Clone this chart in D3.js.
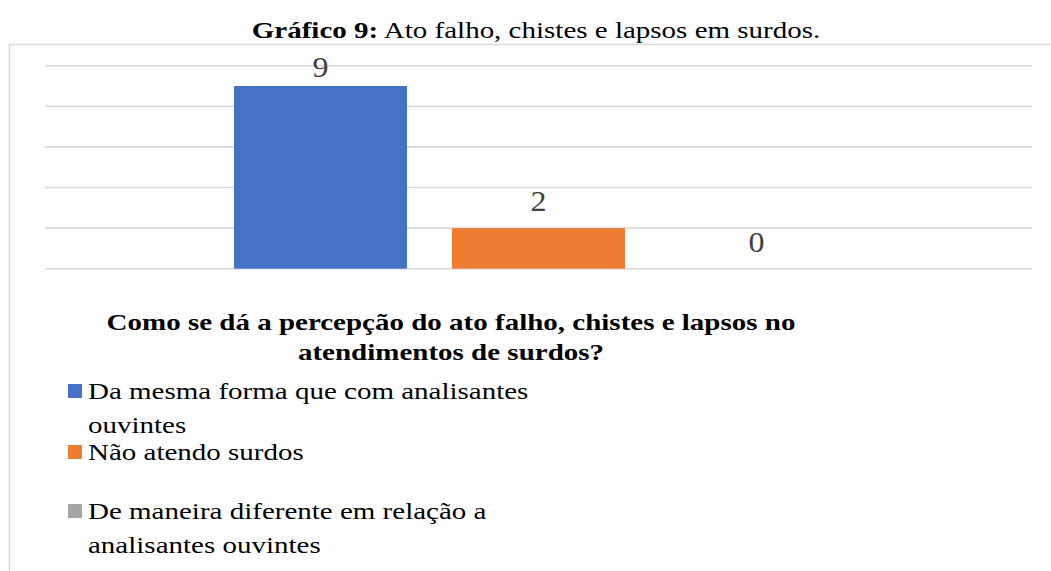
<!DOCTYPE html>
<html>
<head>
<meta charset="utf-8">
<script src="https://cdn.jsdelivr.net/npm/d3@7"></script>
<style>
  html, body { margin: 0; padding: 0; background: #fff; }
  svg { display: block; font-family: "Liberation Serif", "Times New Roman", serif; }
</style>
</head>
<body>
<div id="chart"></div>
<script>
// data
var seriesNames = [
  "Da mesma forma que com analisantes ouvintes",
  "Não atendo surdos",
  "De maneira diferente em relação a analisantes ouvintes"
];
var seriesValues = [9, 2, 0];
var seriesColors = ["#4472C4", "#ED7D31", "#A5A5A5"];
// legend text as it wraps in the picture
var legendLines = [
  ["Da mesma forma que com analisantes", "ouvintes"],
  ["Não atendo surdos"],
  ["De maneira diferente em relação a", "analisantes ouvintes"]
];
var categoryTitle = ["Como se dá a percepção do ato falho, chistes e lapsos no", "atendimentos de surdos?"];
var yTicks = [0, 2, 4, 6, 8, 10];
var titleBold = "Gráfico 9:";
var titleRest = " Ato falho, chistes e lapsos em surdos.";

var width = 1051, height = 571;
var plot = { left: 45, right: 1032, top: 65.7, bottom: 268.7 };
var squish = 0.77; // the picture text is flattened

var svg = d3.select("#chart")
  .append("svg")
  .attr("width", width)
  .attr("height", height);

// title
var title = svg.append("text")
  .attr("transform", "translate(536,38) scale(1," + squish + ")")
  .attr("text-anchor", "middle")
  .style("font-size", "29px")
  .attr("fill", "#000");
title.append("tspan").style("font-weight", "bold").text(titleBold);
title.append("tspan").text(titleRest);

// chart border (only left and top show)
svg.append("path")
  .attr("d", "M9.5," + height + "V44.5H" + width)
  .attr("fill", "none")
  .attr("stroke", "#d9d9d9")
  .attr("stroke-width", 1.5);

var y = d3.scaleLinear()
  .domain([0, 10])
  .range([plot.bottom, plot.top]);

// one category, three series side by side
var x0 = d3.scaleBand()
  .domain(["cat"])
  .range([plot.left, plot.right])
  .paddingInner(0)
  .paddingOuter(0.3103);

var x1 = d3.scaleBand()
  .domain(seriesNames)
  .range([0, x0.bandwidth()])
  .paddingInner(0.2064)
  .paddingOuter(0);

// gridlines
svg.append("g")
  .selectAll("line")
  .data(yTicks)
  .enter()
  .append("line")
  .attr("x1", plot.left)
  .attr("x2", plot.right)
  .attr("y1", d => y(d))
  .attr("y2", d => y(d))
  .attr("stroke", "#d9d9d9")
  .attr("stroke-width", 1.6);

var bars = svg.append("g")
  .attr("transform", "translate(" + x0("cat") + ",0)");

bars.selectAll("rect")
  .data(seriesNames)
  .enter()
  .append("rect")
  .attr("x", d => x1(d))
  .attr("width", x1.bandwidth())
  .attr("y", (d, i) => y(seriesValues[i]))
  .attr("height", (d, i) => y(0) - y(seriesValues[i]))
  .attr("fill", (d, i) => seriesColors[i]);

// value labels, kept inside the chart area
bars.selectAll("text")
  .data(seriesNames)
  .enter()
  .append("text")
  .attr("transform", (d, i) => {
    var by = Math.max(y(seriesValues[i]) - 17, 76.7);
    return "translate(" + (x1(d) + x1.bandwidth() / 2) + "," + by + ") scale(1,0.92)";
  })
  .attr("text-anchor", "middle")
  .style("font-size", "32px")
  .attr("fill", "#404040")
  .text((d, i) => seriesValues[i]);

// axis title
svg.append("g")
  .selectAll("text")
  .data(categoryTitle)
  .enter()
  .append("text")
  .attr("transform", (d, i) => "translate(451," + (330 + i * 30) + ") scale(1," + squish + ")")
  .attr("text-anchor", "middle")
  .style("font-size", "29px")
  .style("font-weight", "bold")
  .attr("fill", "#000")
  .text(d => d);

// legend
var legendTop = [384, 445, 504];
var legend = svg.append("g");
legendLines.forEach(function(lines, i) {
  var g = legend.append("g");
  g.append("rect")
    .attr("x", 68)
    .attr("y", legendTop[i])
    .attr("width", 14)
    .attr("height", 14)
    .attr("fill", seriesColors[i]);
  lines.forEach(function(t, j) {
    g.append("text")
      .attr("transform", "translate(88," + (legendTop[i] + 15 + j * 34) + ") scale(1," + squish + ")")
      .style("font-size", "29px")
      .attr("fill", "#000")
      .text(t);
  });
});
</script>
</body>
</html>
